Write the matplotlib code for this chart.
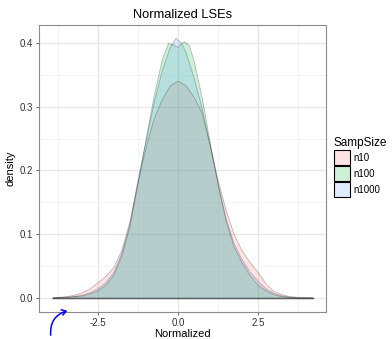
import matplotlib
matplotlib.use("Agg")
import matplotlib.pyplot as plt
from matplotlib.colors import to_rgba
from matplotlib.patches import Patch, FancyArrowPatch

plt.rcParams['font.family'] = ['Liberation Sans', 'DejaVu Sans']

# density estimates
x_n10 = [-3.9, -3.5, -3.25, -3.0, -2.75, -2.5, -2.25, -2.0, -1.75, -1.5, -1.25, -1.0,
         -0.75, -0.5, -0.25, 0.0, 0.25, 0.5, 0.75, 1.0, 1.25, 1.5, 1.75, 2.0, 2.25,
         2.5, 2.75, 3.0, 3.25, 3.5, 3.75, 4.2]
d_n10 = [0.0, 0.002, 0.004, 0.008, 0.014, 0.024, 0.034, 0.048, 0.075, 0.12, 0.18, 0.235,
         0.28, 0.31, 0.332, 0.34, 0.333, 0.315, 0.29, 0.24, 0.185, 0.138, 0.1, 0.074, 0.056,
         0.04, 0.022, 0.01, 0.005, 0.002, 0.001, 0.0]

x_n100 = [-3.9, -3.5, -3.25, -3.0, -2.75, -2.5, -2.25, -2.0, -1.75, -1.5, -1.25, -1.0,
          -0.75, -0.5, -0.3, -0.15, 0.0, 0.1, 0.2, 0.35, 0.5, 0.75, 1.0, 1.25, 1.5, 1.75,
          2.0, 2.25, 2.5, 2.75, 3.0, 3.25, 3.5, 3.75, 4.2]
d_n100 = [0.0, 0.001, 0.002, 0.003, 0.006, 0.011, 0.02, 0.036, 0.066, 0.112, 0.178, 0.248,
          0.315, 0.372, 0.399, 0.397, 0.393, 0.398, 0.402, 0.396, 0.372, 0.315, 0.245, 0.178, 0.12, 0.08,
          0.055, 0.035, 0.02, 0.011, 0.005, 0.002, 0.001, 0.0, 0.0]

x_n1000 = [-3.9, -3.5, -3.25, -3.0, -2.75, -2.5, -2.25, -2.0, -1.75, -1.5, -1.25, -1.0,
           -0.75, -0.5, -0.25, -0.06, 0.1, 0.25, 0.5, 0.75, 1.0, 1.25, 1.5, 1.75, 2.0,
           2.25, 2.5, 2.75, 3.0, 3.25, 3.5, 3.75, 4.2]
d_n1000 = [0.0, 0.001, 0.002, 0.004, 0.008, 0.014, 0.024, 0.04, 0.07, 0.115, 0.185, 0.245,
           0.305, 0.355, 0.392, 0.407, 0.40, 0.385, 0.345, 0.298, 0.24, 0.18, 0.125, 0.085, 0.06,
           0.04, 0.026, 0.014, 0.007, 0.003, 0.001, 0.0, 0.0]

groups = ["n10", "n100", "n1000"]
colors = ["#F8766D", "#00BA38", "#619CFF"]

fig = plt.figure(figsize=(3.92, 3.39), dpi=100)
ax = fig.add_axes([39/392, 1-312/339, 287/392, 287/339])

series = [(x_n10, d_n10), (x_n100, d_n100), (x_n1000, d_n1000)]
for (xs, ds), c in zip(series, colors):
    ax.fill_between(xs, 0, ds, facecolor=c, alpha=0.2, edgecolor="none", zorder=3)
    ax.plot(xs, ds, color="black", alpha=0.25, lw=0.6, zorder=4)
    ax.plot([xs[0], xs[-1]], [0, 0], color="black", alpha=0.25, lw=1.0, zorder=4)

ax.set_xlim(-4.34, 4.62)
ax.set_ylim(-0.022, 0.428)
ax.set_xticks([-2.5, 0.0, 2.5])
ax.set_xticklabels(["-2.5", "0.0", "2.5"])
ax.set_yticks([0.0, 0.1, 0.2, 0.3, 0.4])
ax.set_yticklabels(["0.0", "0.1", "0.2", "0.3", "0.4"])
ax.set_xticks([-3.75, -1.25, 1.25, 3.75], minor=True)
ax.set_yticks([0.05, 0.15, 0.25, 0.35], minor=True)
ax.grid(True, which="major", color="#E6E6E6", lw=0.9, zorder=0)
ax.grid(True, which="minor", color="#F3F3F3", lw=0.6, zorder=0)
ax.set_axisbelow(True)
ax.tick_params(which="major", length=2.5, width=0.6, color="#4D4D4D",
               labelsize=7, labelcolor="#333333", pad=2)
ax.tick_params(which="minor", length=0)
for s in ax.spines.values():
    s.set_color("#8C8C8C")
    s.set_linewidth(0.8)

ax.set_xlabel("Normalized", fontsize=8, labelpad=0.5)
ax.set_ylabel("density", fontsize=8, labelpad=3)
ax.set_title("Normalized LSEs", fontsize=9.3, pad=5)

handles = [Patch(facecolor=to_rgba(c, 0.2), edgecolor="black", linewidth=0.8) for c in colors]
leg = fig.legend(handles, groups, title="SampSize", loc="upper left",
                 bbox_to_anchor=(330/392, 1-133/339), frameon=False,
                 fontsize=7, title_fontsize=8.5, handlelength=1.7, handleheight=2.0,
                 handletextpad=0.3, labelspacing=0.12, borderaxespad=0)
leg._legend_box.align = "left"

# hand-drawn style annotation arrow
arr = FancyArrowPatch((51/392, 1-338/339), (70/392, 1-310/339),
                      transform=fig.transFigure, connectionstyle="arc3,rad=-0.45",
                      arrowstyle="->,head_length=3,head_width=2", color="blue", lw=1.1)
fig.patches.append(arr)

fig.savefig("out.png", dpi=100)
